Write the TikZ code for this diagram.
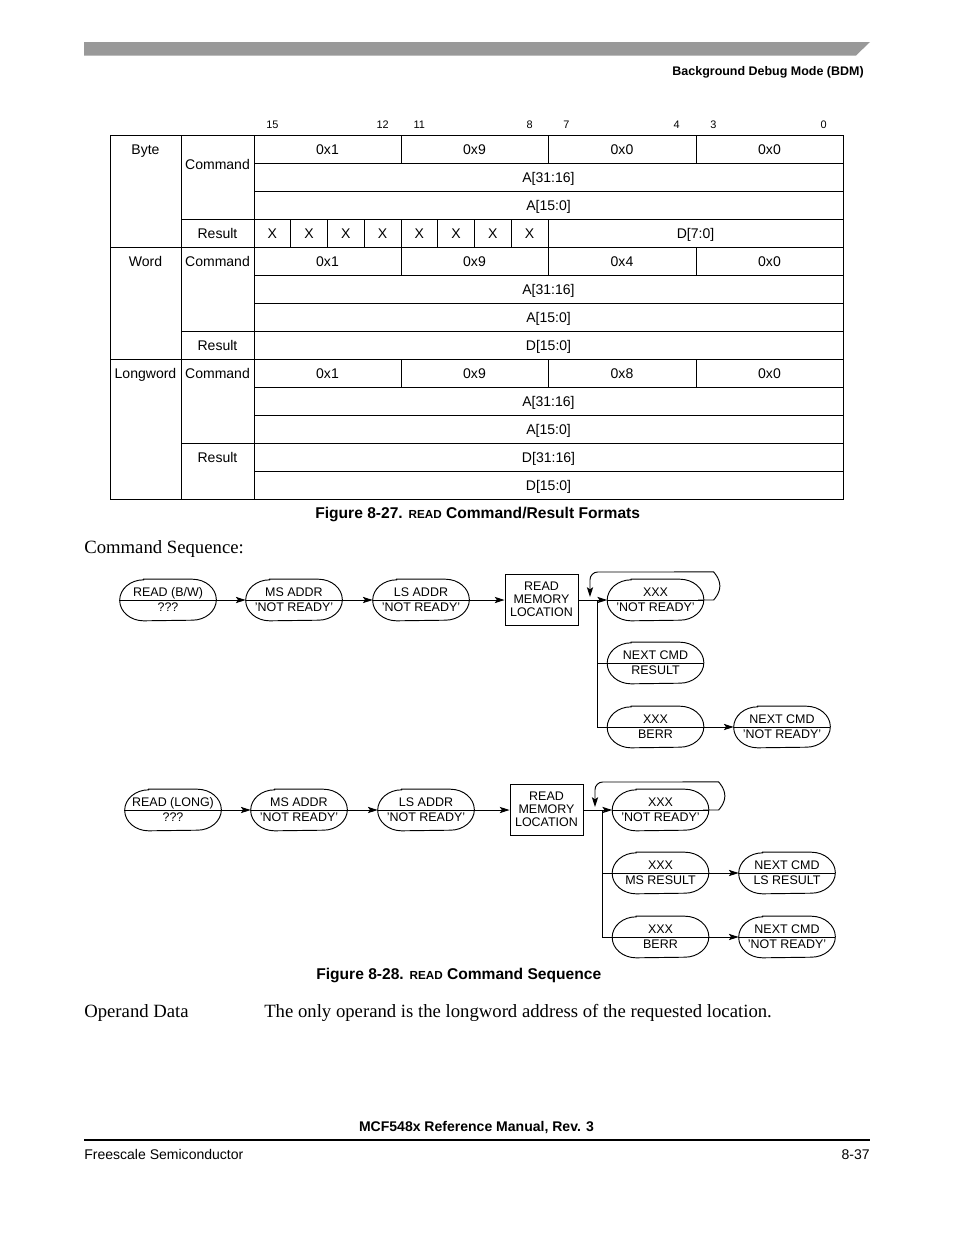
\documentclass[tikz,border=0pt]{standalone}
\usepackage{fontspec}
\setmainfont{Liberation Sans}
\newfontfamily\serifface{Liberation Serif}
\usetikzlibrary{arrows.meta,calc}
\definecolor{bargray}{HTML}{999999}
\tikzset{
  every node/.style={inner sep=0pt, text depth=0pt},
  fnine/.style={font=\fontsize{9}{10.8}\selectfont, text height=6.44pt},
  feight/.style={font=\fontsize{8}{8.4}\selectfont, text height=5.73pt},
  fseven/.style={font=\fontsize{7}{8}\selectfont, text height=5.0pt},
  fcap/.style={font=\fontsize{10}{12}\selectfont\bfseries, text height=7.16pt},
  fhead/.style={font=\fontsize{8}{9.6}\selectfont\bfseries, text height=5.73pt},
  ffootb/.style={font=\fontsize{9}{10.8}\selectfont\bfseries, text height=6.44pt},
  fbody/.style={font=\fontsize{12}{14}\selectfont\serifface, text height=7.86pt},
  tline/.style={line width=0.6pt},
  dline/.style={line width=0.6pt},
  arr/.style={dline, -{Stealth[length=6.3pt, width=4pt, inset=1.4pt]}},
  ovalbox/.style={minimum width=61.6pt, minimum height=26.3pt},
  membox/.style={draw, line width=0.6pt, minimum width=46.8pt, minimum height=32.7pt},
}
% oval: name, x, y, top text, bottom text
\newcommand\ovl[5]{%
  \node[ovalbox] (#1) at (#2,#3) {};
  \draw[dline] ($(#1.north west)+(24,0)$) -- ($(#1.north east)+(-24,0)$)
     arc[start angle=90, end angle=-90, x radius=15.4pt, y radius=13.15pt]
     -- ($(#1.south west)+(24,0)$)
     arc[start angle=270, end angle=90, x radius=15.4pt, y radius=13.15pt] -- cycle;
  \draw[dline] (#1.west) -- (#1.east);
  \node[feight] (#1-t) at ($(#1)+(0,-7.5)$) {#4};
  \node[feight] (#1-b) at ($(#1)+(0,7)$) {#5};
}
% memory box: name, x, y
\newcommand\membx[3]{%
  \node[membox] (#1) at (#2,#3) {};
  \node[feight] (#1-1) at ($(#1)+(0,-13)$) {READ};
  \node[feight] (#1-2) at (#1) {MEMORY};
  \node[feight] (#1-3) at ($(#1)+(0,13)$) {LOCATION};
}
\begin{document}
\begin{tikzpicture}[x=0.6415pt, y=-0.6415pt]
\useasboundingbox (0,0) rectangle (954,1235);
\fill[white] (0,0) rectangle (954,1235);

% header
\fill[bargray] (84,42) -- (870,42) -- (856,55.5) -- (84,55.5) -- cycle;
\node[fhead, anchor=east] (hdr) at (864,71) {Background Debug Mode (BDM)};

% bit numbers
\foreach \b in {15,12,11,8,7,4,3,0} {
  \node[fseven] (bit\b) at ({254+(15-\b+0.5)*36.75},125) {\b};
}

% table lines
\draw[tline] (110,135) rectangle (843,499);
\draw[tline] (181,135) -- (181,499);
\draw[tline] (254,135) -- (254,499);
\foreach \y in {247,359} \draw[tline] (110,\y) -- (843,\y);
\foreach \y in {219,331,443} \draw[tline] (181,\y) -- (843,\y);
\foreach \y in {163,191,275,303,387,415,471} \draw[tline] (254,\y) -- (843,\y);
\foreach \y in {135,247,359} {
  \foreach \x in {401,548,696} \draw[tline] (\x,\y) -- (\x,\y+28);
}
\foreach \i in {1,...,8} \draw[tline] ({254+\i*36.75},219) -- ({254+\i*36.75},247);

% table labels
\node[fnine] (lbyte) at (145.5,149) {Byte};
\node[fnine] (lword) at (145.5,261) {Word};
\node[fnine] (llong) at (145.5,373) {Longword};
\node[fnine] (cmd1) at (217.5,164.5) {Command};
\node[fnine] (cmd2) at (217.5,261) {Command};
\node[fnine] (cmd3) at (217.5,373) {Command};
\node[fnine] (res1) at (217.5,233) {Result};
\node[fnine] (res2) at (217.5,345) {Result};
\node[fnine] (res3) at (217.5,457) {Result};

% field contents
\foreach \y/\c [count=\k] in {149/0x0, 261/0x4, 373/0x8} {
  \node[fnine] (fa\k) at (327.5,\y) {0x1};
  \node[fnine] (fb\k) at (474.5,\y) {0x9};
  \node[fnine] (fc\k) at (622,\y) {\c};
  \node[fnine] (fd\k) at (769.5,\y) {0x0};
}
\foreach \y/\t [count=\k] in {177/{A[31:16]}, 205/{A[15:0]}, 289/{A[31:16]}, 317/{A[15:0]}, 345/{D[15:0]}, 401/{A[31:16]}, 429/{A[15:0]}, 457/{D[31:16]}, 485/{D[15:0]}} {
  \node[fnine] (w\k) at (548.5,\y) {\t};
}
\foreach \i in {0,...,7} \node[fnine] (xb\i) at ({254+(\i+0.5)*36.75},233) {X};
\node[fnine] (d70) at (695.5,233) {D[7:0]};

\node[fcap, anchor=west] (cap1) at (315,513) {Figure 8-27. {\fontsize{7.5}{9}\selectfont READ} Command/Result Formats};

\node[fbody, anchor=west] (cseq) at (84,547) {Command Sequence:};

% ---- diagram 1
\ovl{o1}{168}{600}{READ (B/W)}{???}
\ovl{o2}{294}{600}{MS ADDR}{'NOT READY'}
\ovl{o3}{421}{600}{LS ADDR}{'NOT READY'}
\membx{b1}{541.5}{599.5}
\ovl{x1}{655.5}{600}{XXX}{'NOT READY'}
\ovl{r1}{655.5}{663}{NEXT CMD}{RESULT}
\ovl{e1}{655.5}{727}{XXX}{BERR}
\ovl{n1}{782}{727}{NEXT CMD}{'NOT READY'}
\draw[arr] (o1.east) -- (o2.west);
\draw[arr] (o2.east) -- (o3.west);
\draw[arr] (o3.east) -- (b1.west |- o3.east);
\draw[arr] (b1.east |- x1.west) -- (x1.west);
\coordinate (j1) at (597,600);
\draw[dline] (j1) |- (r1.west);
\draw[dline] (j1) |- (e1.west);
\draw[arr] (e1.east) -- (n1.west);
\draw[arr, rounded corners=5pt] (x1.east) -- ++(2,0) arc[start angle=-90, end angle=90, radius=9pt] -- (590,572) -- (590,597);

% ---- diagram 2
\ovl{o4}{173}{810}{READ (LONG)}{???}
\ovl{o5}{299}{810}{MS ADDR}{'NOT READY'}
\ovl{o6}{426}{810}{LS ADDR}{'NOT READY'}
\membx{b2}{546.5}{809.5}
\ovl{x2}{660.5}{810}{XXX}{'NOT READY'}
\ovl{r2}{660.5}{873}{XXX}{MS RESULT}
\ovl{m2}{787}{873}{NEXT CMD}{LS RESULT}
\ovl{e2}{660.5}{937}{XXX}{BERR}
\ovl{n2}{787}{937}{NEXT CMD}{'NOT READY'}
\draw[arr] (o4.east) -- (o5.west);
\draw[arr] (o5.east) -- (o6.west);
\draw[arr] (o6.east) -- (b2.west |- o6.east);
\draw[arr] (b2.east |- x2.west) -- (x2.west);
\coordinate (j2) at (602,810);
\draw[dline] (j2) |- (r2.west);
\draw[dline] (j2) |- (e2.west);
\draw[arr] (r2.east) -- (m2.west);
\draw[arr] (e2.east) -- (n2.west);
\draw[arr, rounded corners=5pt] (x2.east) -- ++(2,0) arc[start angle=-90, end angle=90, radius=9pt] -- (595,782) -- (595,807);

\node[fcap, anchor=west] (cap2) at (316,974) {Figure 8-28. {\fontsize{7.5}{9}\selectfont READ} Command Sequence};

\node[fbody, anchor=west] (opd) at (84,1011) {Operand Data};
\node[fbody, anchor=west] (opt) at (264,1011) {The only operand is the longword address of the requested location.};

% footer
\node[ffootb] (man) at (476.5,1126) {MCF548x Reference Manual, Rev. 3};
\draw[line width=0.8pt] (84,1140) -- (870,1140);
\node[fnine, anchor=west] (fs) at (84,1154) {Freescale Semiconductor};
\node[fnine, anchor=east] (pg) at (870,1154) {8-37};
\end{tikzpicture}
\end{document}
